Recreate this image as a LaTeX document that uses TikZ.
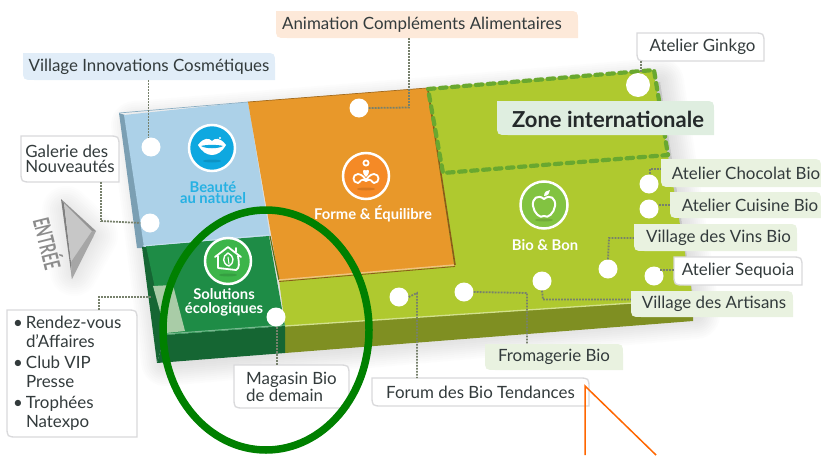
\documentclass[tikz,border=0pt]{standalone}
\usepackage{fontspec}
\usepackage{graphicx}
\setmainfont{Lato}
\usetikzlibrary{calc}
\definecolor{ink}{HTML}{333B3C}
\definecolor{lblue}{HTML}{E1EDF8}
\definecolor{lpeach}{HTML}{FDE9D9}
\definecolor{lgreen}{HTML}{E9F2E0}
\definecolor{lzone}{HTML}{DFEEE0}
\definecolor{lborder}{HTML}{D9D9DB}
\definecolor{lime}{HTML}{AFC92F}
\definecolor{limeside}{HTML}{7F8F22}
\definecolor{orangetop}{HTML}{E8982A}
\definecolor{bluetop}{HTML}{ACD1E8}
\definecolor{blueside}{HTML}{7B9FB3}
\definecolor{greentop}{HTML}{1E8C46}
\definecolor{greenfront}{HTML}{156633}
\definecolor{paleinset}{HTML}{A9CCA7}
\definecolor{dashgreen}{HTML}{69A82F}
\definecolor{conncol}{HTML}{77816C}
\definecolor{icblue}{HTML}{0EA8E0}
\definecolor{icorange}{HTML}{F58A26}
\definecolor{icapple}{HTML}{82C341}
\definecolor{ichouse}{HTML}{3DB54A}
\definecolor{ringgreen}{HTML}{008000}
\definecolor{pointer}{HTML}{FF6600}
\tikzset{
  x=1pt,y=-1pt,
  conn/.style={draw=conncol,line width=1.8pt,dash pattern=on 1.8pt off 1.2pt},
  dotnode/.style={circle,fill=white,inner sep=0pt,minimum size=19pt},
  iconring/.style={circle,draw=white,line width=2.5pt,inner sep=0pt,minimum size=46pt},
  icline/.style={draw=white,line width=1.8pt,line cap=round,line join=round},
  zonetext/.style={font=\fontsize{14.8}{13.5}\selectfont\bfseries,text=white,align=center,inner sep=0pt},
  labtext/.style={font=\fontsize{16.9}{18}\selectfont,text=ink,inner sep=0pt,align=left},
  bluebox/.style={fill=lblue},
  peachbox/.style={fill=lpeach},
  greenbox/.style={fill=lgreen},
  zonebox/.style={fill=lzone},
  whitebox/.style={fill=white,draw=lborder,line width=1.3pt},
}
\newcommand{\tabbox}[7]{%
  \path[#6] (#2,#3) -- ({#4-11},#3) .. controls (#4,#3) .. (#4,{#3+11}) -- (#4,#5)
     -- ({#2+11},#5) .. controls (#2,#5) .. (#2,{#5-11}) -- cycle;
  \node[labtext,minimum width=#4pt-#2pt,minimum height=#5pt-#3pt] (#1)
     at ({(#2+#4)/2},{(#3+#5)/2}) {#7};}
\begin{document}
\begin{tikzpicture}
\useasboundingbox (0,0) rectangle (821,455);
% soft shadows
\foreach \w in {4,8,...,48}{
  \fill[black!70,opacity=.016,draw=black!70,line width=\w pt,line join=round]
    (135,125) -- (660,82) -- (696,315) -- (165,362) -- cycle;
  \fill[black!70,opacity=.012,draw=black!70,line width=\w pt,line join=round]
    (66,210) -- (94,236) -- (74,272) -- cycle;
}
% left faces
\fill[blueside] (119,113) -- (125,115) -- (145,248) -- (137,248) -- cycle;
\fill[greenfront] (142,247) -- (147,246) -- (165,335) -- (157,363) -- cycle;
% fronts
\fill[limeside] (285,326) -- (693,299) -- (693,321) -- (285,353) -- cycle;
\fill[greenfront] (165,335) -- (285,326) -- (285,353) -- (157,363) -- cycle;
% top surfaces
\fill[lime] (427,88) -- (653,70) -- (693,299) -- (285,326) -- (279,280) -- cycle;
\fill[bluetop] (124,115) -- (248,102) -- (270,236) -- (144,247) -- cycle;
\fill[greentop] (146,246) -- (269,236) -- (285,326) -- (165,335) -- cycle;
\fill[orangetop] (248,102) -- (427,88) -- (454,265) -- (279,280) -- cycle;
\draw[orangetop!60!black,line width=1.6pt] (428,90) -- (455,265);
\draw[lime!55!black,line width=1.2pt] (270,236) -- (279,280);
\draw[orangetop!60!white,line width=1.4pt] (279,280) -- (454,265);
\draw[orangetop!60!black,line width=.8pt] (279,281.5) -- (455,266.5);
\draw[lime!55!white,line width=1.3pt] (285,326) -- (693,299);
\draw[greentop!60!white,line width=1pt] (165,334) -- (285,325);
\draw[bluetop!70!white,line width=1pt] (143,246) -- (269,235);
\draw[blueside!70!bluetop,line width=.7pt] (119,113) -- (248,102);
\draw[orangetop!70!black,line width=.7pt] (248,102) -- (427,88);
\fill[paleinset] (153,286) -- (173,285) -- (185,331) -- (166,333) -- cycle;
% zone
\draw[dashgreen,line width=4.2pt,line cap=round,line join=round,dash pattern=on 6.5pt off 5.5pt]
  (428,89) -- (654,70) -- (668,155) -- (443,173) -- cycle;
% entrance
\fill[black!50] (61,199) -- (64,203) -- (71,262) -- (72,279) -- cycle;
\fill[black!22] (64,203) -- (92,231) -- (71,262) -- cycle;
\fill[black!42] (61,199) -- (96,231) -- (92,231) -- (64,203) -- cycle;
\fill[black!35] (92,231) -- (96,231) -- (72,279) -- (71,262) -- cycle;
\node[rotate=-76,text=black!45,inner sep=0pt,font=\fontsize{14}{14}\selectfont\bfseries] (entry) at (49,243) {\scalebox{1}[1.6]{ENTRÉE}};
% labels
\tabbox{lVIC}{23}{53}{275}{80}{bluebox}{Village Innovations Cosmétiques}
\tabbox{lAnim}{276}{11}{578}{38}{peachbox}{Animation Compléments Alimentaires\kern10pt}
\tabbox{lGink}{637}{33}{764}{61}{whitebox}{\kern4pt Atelier Ginkgo}
\tabbox{lGal}{21}{136}{119}{182}{whitebox}{Galerie des\\[-3pt]Nouveautés}
\tabbox{lChoc}{661}{159}{821}{187}{greenbox}{\kern10pt Atelier Chocolat Bio}
\tabbox{lCuis}{670}{192}{821}{218}{greenbox}{\kern9pt Atelier Cuisine Bio}
\tabbox{lVins}{634}{224}{797}{251}{greenbox}{\kern6pt Village des Vins Bio}
\tabbox{lSeq}{674}{257}{802}{285}{whitebox}{Atelier Sequoia}
\tabbox{lArt}{631}{291}{793}{317}{greenbox}{\kern4pt Village des Artisans}
\tabbox{lFrom}{485}{344}{623}{370}{greenbox}{Fromagerie Bio}
\tabbox{lForum}{372}{378}{589}{406}{whitebox}{Forum des Bio Tendances}
\tabbox{lMag}{234}{365}{349}{408}{whitebox}{Magasin Bio\\[-1pt]de demain}
\tabbox{lList}{7}{310}{137}{437}{whitebox}{%
  \begin{minipage}{92pt}\baselineskip=19pt
  \leavevmode\llap{\textbullet\hspace{3pt}}\mbox{Rendez-vous}\\d’Affaires\\[2pt]
  \leavevmode\llap{\textbullet\hspace{3pt}}Club VIP\\Presse\\[2pt]
  \leavevmode\llap{\textbullet\hspace{3pt}}Trophées\\Natexpo
  \end{minipage}}
\path[zonebox] (497,101) -- (703,101) .. controls (714,101) .. (714,112) -- (714,135)
  -- (508,135) .. controls (497,135) .. (497,124) -- cycle;
\node[font=\fontsize{22}{24}\selectfont\bfseries,text=ink!70!black,inner sep=0pt] (lZone) at (608,119) {Zone internationale};
% dots
\node[dotnode] (dVIC) at (151,147) {};
\node[dotnode] (dGal) at (150,223) {};
\node[dotnode] (dAnim) at (359,108) {};
\node[dotnode,minimum size=24pt] (dGink) at (638,85) {};
\node[dotnode] (dChoc) at (649,184) {};
\node[dotnode] (dCuis) at (649,209) {};
\node[dotnode] (dVins) at (608,269) {};
\node[dotnode] (dSeq) at (654,276) {};
\node[dotnode] (dArt) at (542,281) {};
\node[dotnode] (dFrom) at (464,292) {};
\node[dotnode] (dForum) at (399,297) {};
\node[dotnode] (dMag) at (276,317) {};
\coordinate (aList) at (152,297);
% connectors
\draw[conn] ([xshift=-2.5pt]dVIC.north |- lVIC.south) -- ([xshift=-2.5pt]dVIC.north);
\draw[conn] (dAnim.east) -- (409,107.5) -- (409,38);
\draw[conn] (641,61) -- (641,73);
\draw[conn] (101,182) -- (101,221) -- (dGal.west);
\draw[conn] (650,174) -- (650,169) -- (lChoc.west |- 650,169);
\draw[conn] (dCuis.east) ++(0,-4) -- (lCuis.west |- 660,205);
\draw[conn] (dVins.north) -- (609,238) -- (lVins.west |- 609,238);
\draw[conn] (660,270) -- (lSeq.west |- 660,270);
\draw[conn] (dArt.south) -- (543,299.5) -- (lArt.west |- 543,299.5);
\draw[conn] (dFrom.east) -- (527,293) -- (527,344);
\draw[conn] (dForum.east) -- (417,293) -- (417,378);
\draw[conn] (277,327) -- (277,365);
\draw[conn] (99,310) -- (99,297) -- (aList);
% icons
\node[iconring,fill=icblue] (iBeaute) at (212,148) {};
\node[iconring,fill=icorange] (iForme) at (366,176) {};
\node[iconring,fill=icapple,minimum size=47pt] (iBio) at (544,205) {};
\node[iconring,fill=ichouse] (iSol) at (228,261) {};
\fill[black,opacity=.12] (212,161) ellipse [x radius=9pt,y radius=1.5pt];
\fill[black,opacity=.12] (366,189) ellipse [x radius=9pt,y radius=1.5pt];
\fill[black,opacity=.12] (544,220) ellipse [x radius=9pt,y radius=1.5pt];
\fill[black,opacity=.12] (228,275) ellipse [x radius=9pt,y radius=1.5pt];
% lips
\fill[white] (198,145) .. controls (204,137) and (209,138) .. (212,141) .. controls (215,138) and (220,137) .. (226,145)
   .. controls (222,152) and (217,155) .. (212,155) .. controls (207,155) and (202,152) .. (198,145) -- cycle;
\fill[icblue] (201,146) .. controls (206,144.5) and (218,144.5) .. (223,146) .. controls (218,149) and (206,149) .. (201,146) -- cycle;
\fill[white] (220,138) circle (1.2pt);
% meditator
\draw[icline] (366,163) circle (2.6pt);
\draw[icline] (366,181) .. controls (361,177) and (360,183) .. (358,183) .. controls (352,183) and (352,174) .. (358,174) .. controls (362,174) and (366,179) .. (366,181) .. controls (366,179) and (370,174) .. (374,174) .. controls (380,174) and (380,183) .. (374,183) .. controls (372,183) and (371,177) .. (366,181);
\fill[white] (366,177) .. controls (361,172) and (363,168) .. (366,170.5) .. controls (369,168) and (371,172) .. (366,177) -- cycle;
% apple
\draw[icline,line width=2pt] (544,199) .. controls (538,194) and (532,198) .. (533,206) .. controls (534,213) and (540,219) .. (544,216) .. controls (548,219) and (554,213) .. (555,206) .. controls (556,198) and (550,194) .. (544,199) -- cycle;
\fill[white] (544,196) .. controls (544,192) and (547,190) .. (550,190) .. controls (550,193) and (548,196) .. (544,196) -- cycle;
% house
\draw[icline] (215,257) -- (228,247) -- (241,257);
\draw[icline] (236,248) -- (236,252);
\draw[icline] (218,256) -- (218,268) -- (236,270) .. controls (240,268) and (239,263) .. (238,256);
\draw[icline,line width=1.4pt] (228,253) .. controls (222,256) and (222,264) .. (229,266) .. controls (235,262) and (234,256) .. (228,253) -- cycle;
\draw[icline,line width=1pt] (228,257) -- (229,264);
% zone titles
\node[zonetext,text=icblue!90!white] (tBeaute) at (213,192.5) {Beauté\\[-2.5pt]au naturel};
\node[zonetext] (tForme) at (373,214) {Forme \& Équilibre};
\node[zonetext] (tBio) at (545,245) {Bio \& Bon};
\node[zonetext] (tSol) at (224,302.5) {Solutions\\écologiques};
% pointer
\coordinate (pA) at (585,455);
\coordinate (pB) at (656,455);
\coordinate (pC) at (585,386);
\draw[pointer,line width=1.5pt,line join=miter] (pA) -- (pC) -- (pB);
% ring
\draw[ringgreen,line width=7.5pt] (266,330) ellipse [x radius=103pt,y radius=120pt];
\end{tikzpicture}
\end{document}
